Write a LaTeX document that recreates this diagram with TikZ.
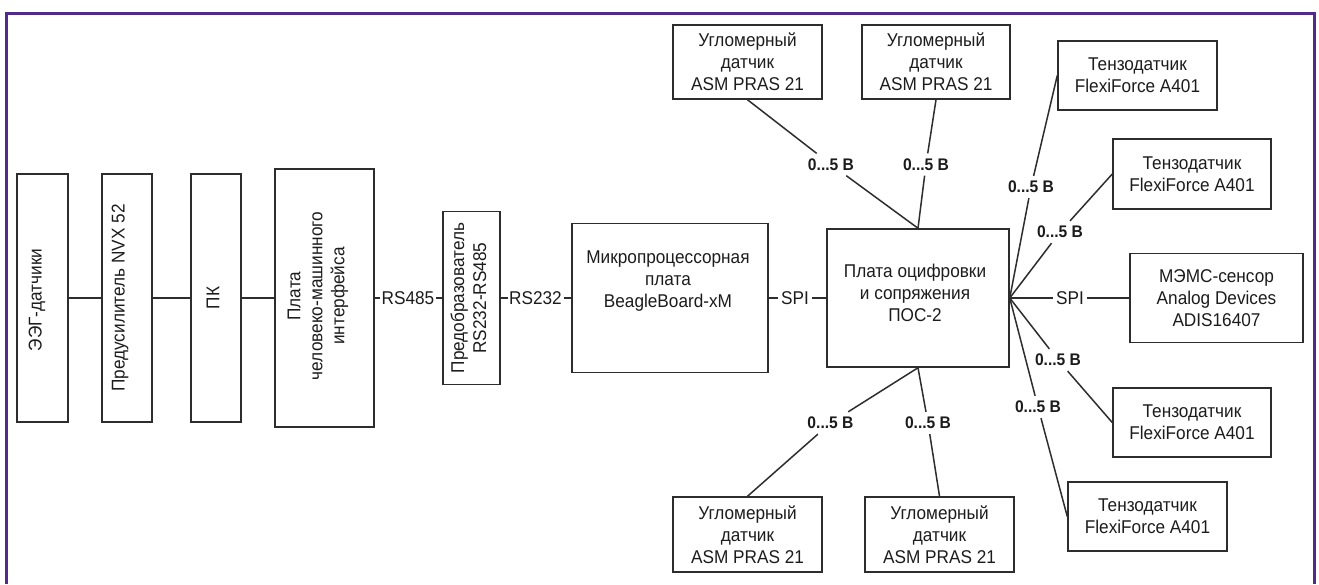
\documentclass[tikz,border=0pt]{standalone}
\usepackage{fontspec}
\setmainfont{Liberation Sans}[FakeStretch=0.93]
\definecolor{framec}{RGB}{82,42,140}
\definecolor{linec}{RGB}{45,45,45}
\definecolor{textc}{RGB}{28,28,28}
\begin{document}
\begin{tikzpicture}[x=1pt,y=-1pt,
  box/.style={draw=linec, line width=1.5pt, inner sep=0pt, align=center, text=textc, font=\fontsize{18.5}{22}\selectfont},
  txt/.style={inner sep=0pt, align=center, text=textc, font=\fontsize{18.5}{22}\selectfont},
  vtxt/.style={txt, rotate=90},
  conn/.style={draw=linec, line width=1.5pt},
  volt/.style={inner xsep=3pt, inner ysep=5pt, text=textc, font=\bfseries\fontsize{16.8}{19}\selectfont},
  bus/.style={inner xsep=1.5pt, inner ysep=3pt, text=textc, font=\fontsize{18.5}{22}\selectfont},
  framel/.style={draw=framec, line width=3pt}
]
\useasboundingbox (0,0) rectangle (1319,584);
\draw[framel] (6.5,584) -- (6.5,13.5) -- (1314,13.5) -- (1314,584);

% left chain boxes
\node[box, minimum width=51pt, minimum height=248pt] (eeg) at (42.5,298) {};
\node[box, minimum width=50pt, minimum height=248pt] (pre) at (127,298) {};
\node[box, minimum width=50pt, minimum height=248pt] (pk) at (216,298) {};
\node[box, minimum width=99pt, minimum height=258pt] (hmi) at (324.5,298) {};
\node[box, minimum width=57pt, minimum height=173pt] (conv) at (471.5,298) {};
\node[box, minimum width=196pt, minimum height=149pt] (micro) at (670,298) {};
\node[box, minimum width=182pt, minimum height=138pt] (pos) at (918,298) {};

\node[vtxt] (eegt) at (37,300) {ЭЭГ-датчики};
\node[vtxt] (pret) at (120,298) {Предусилитель NVX 52};
\node[vtxt] (pkt) at (213,298) {ПК};
\node[vtxt] (hmit) at (318,296) {Плата\\человеко-машинного\\интерфейса};
\node[vtxt] (convt) at (468.5,298) {Предобразователь\\RS232-RS485};
\node[txt] (microt) at (668,281) {Микропроцессорная\\плата\\BeagleBoard-xM};
\node[txt] (post) at (915,293) {Плата оцифровки\\и сопряжения\\ПОС-2};

% sensors
\node[box, minimum width=149pt, minimum height=74pt] (u1) at (747.5,62) {Угломерный\\датчик\\ASM PRAS 21};
\node[box, minimum width=148pt, minimum height=74pt] (u2) at (936,62) {Угломерный\\датчик\\ASM PRAS 21};
\node[box, minimum width=149pt, minimum height=75pt] (u3) at (747.5,534.5) {Угломерный\\датчик\\ASM PRAS 21};
\node[box, minimum width=149pt, minimum height=75pt] (u4) at (939.5,534.5) {Угломерный\\датчик\\ASM PRAS 21};
\node[box, minimum width=159pt, minimum height=69pt] (t1) at (1137.5,75.5) {Тензодатчик\\FlexiForce A401};
\node[box, minimum width=158pt, minimum height=70pt] (t2) at (1192,174) {Тензодатчик\\FlexiForce A401};
\node[box, minimum width=173pt, minimum height=89pt] (mems) at (1216.5,298) {МЭМС-сенсор\\Analog Devices\\ADIS16407};
\node[box, minimum width=158pt, minimum height=69pt] (t3) at (1192,422.5) {Тензодатчик\\FlexiForce A401};
\node[box, minimum width=159pt, minimum height=69pt] (t4) at (1147.5,516.5) {Тензодатчик\\FlexiForce A401};

% bus labels
\node[bus] (rs485) at (408,298) {RS485};
\node[bus] (rs232) at (535.5,298) {RS232};
\node[bus, inner xsep=3pt] (spi1) at (795,298) {SPI};
\node[bus, inner xsep=3pt] (spi2) at (1070,298) {SPI};

% voltage labels
\node[volt] (l1) at (831,164.5) {0...5 В};
\node[volt] (l2) at (926,164.5) {0...5 В};
\node[volt] (l3) at (830.5,423) {0...5 В};
\node[volt] (l4) at (928,423) {0...5 В};
\node[volt] (lt1) at (1031,187) {0...5 В};
\node[volt] (lt2) at (1060,232) {0...5 В};
\node[volt] (lt3) at (1058,360) {0...5 В};
\node[volt] (lt4) at (1038,407) {0...5 В};

% connectors
\draw[conn] (eeg) -- (pre);
\draw[conn] (pre) -- (pk);
\draw[conn] (pk) -- (hmi);
\draw[conn] (hmi) -- (rs485);
\draw[conn] (rs485) -- (conv);
\draw[conn] (conv) -- (rs232);
\draw[conn] (rs232) -- (micro);
\draw[conn] (micro) -- (spi1);
\draw[conn] (spi1) -- (pos);
\draw[conn] (pos) -- (spi2);
\draw[conn] (spi2) -- (mems);

\draw[conn] (u1.south) -- (l1);
\draw[conn] (l1) -- (pos.north);
\draw[conn] (u2.south) -- (l2);
\draw[conn] (l2) -- (pos.north);
\draw[conn] (pos.south) -- (l3);
\draw[conn] (l3) -- (u3.north);
\draw[conn] (pos.south) -- (l4);
\draw[conn] (l4) -- (u4.north);
\draw[conn] (pos.east) -- (lt1);
\draw[conn] (lt1) -- (t1.west);
\draw[conn] (pos.east) -- (lt2);
\draw[conn] (lt2) -- (t2.west);
\draw[conn] (pos.east) -- (lt3);
\draw[conn] (lt3) -- (t3.west);
\draw[conn] (pos.east) -- (lt4);
\draw[conn] (lt4) -- (t4.west);
\end{tikzpicture}
\end{document}
